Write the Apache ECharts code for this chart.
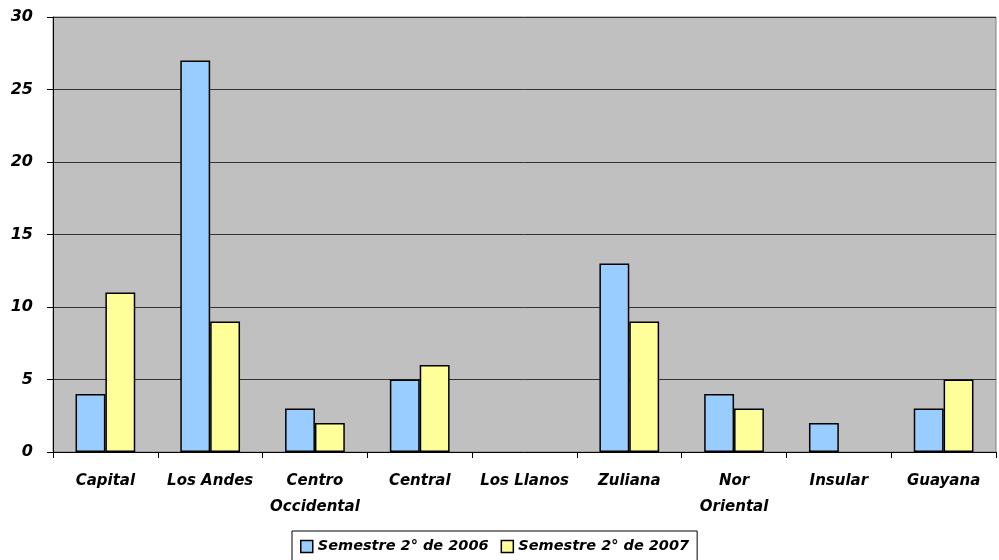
<!DOCTYPE html>
<html>
<head>
<meta charset="utf-8">
<script src="https://cdn.jsdelivr.net/npm/echarts@6/dist/echarts.min.js"></script>
<style>
  html, body { margin: 0; padding: 0; background: #fff; }
  #chart { width: 999px; height: 560px; }
</style>
</head>
<body>
<div id="chart"></div>
<script>
// categorías (regiones)
var categories = ['Capital', 'Los Andes', 'Centro\nOccidental', 'Central', 'Los Llanos',
  'Zuliana', 'Nor\nOriental', 'Insular', 'Guayana'];
var serie2006 = [4, 27, 3, 5, 0, 13, 4, 2, 3];
var serie2007 = [11, 9, 2, 6, 0, 9, 3, 0, 5];
var seriesNames = ['Semestre 2° de 2006', 'Semestre 2° de 2007'];

var fontFam = '"DejaVu Sans", sans-serif';

// los ceros no se dibujan (como en el original)
function sinCeros(arr) {
  return arr.map(function (v) { return v === 0 ? '-' : v; });
}

var myChart = echarts.init(document.getElementById('chart'));

var option = {
  animation: false,
  backgroundColor: '#ffffff',
  grid: {
    left: 53,
    right: 3,
    top: 17,
    bottom: 108,
    show: true,
    backgroundColor: '#C0C0C0',
    borderColor: '#808080',
    borderWidth: 1
  },
  legend: {
    data: seriesNames,
    icon: 'rect',
    left: 292,
    bottom: -2,
    padding: [8, 8, 8, 8],
    itemGap: 12,
    itemWidth: 12,
    itemHeight: 12,
    borderColor: '#000',
    borderWidth: 1,
    backgroundColor: '#fff',
    itemStyle: { borderColor: '#000', borderWidth: 1.5 },
    textStyle: {
      color: '#000',
      fontSize: 14.5,
      fontWeight: 'bold',
      fontStyle: 'italic',
      fontFamily: fontFam
    }
  },
  xAxis: {
    type: 'category',
    data: categories,
    axisLine: { lineStyle: { color: '#000', width: 1 } },
    axisTick: { show: true, length: 6, lineStyle: { color: '#000' } },
    axisLabel: {
      interval: 0,
      margin: 16,
      color: '#000',
      fontSize: 15,
      fontWeight: 'bold',
      fontStyle: 'italic',
      fontFamily: fontFam,
      lineHeight: 26
    }
  },
  yAxis: {
    type: 'value',
    min: 0,
    max: 30,
    interval: 5,
    axisLine: { show: true, lineStyle: { color: '#000' } },
    axisTick: { show: true, length: 6, lineStyle: { color: '#000' } },
    splitLine: { show: true, lineStyle: { color: '#333', width: 1 } },
    axisLabel: {
      margin: 20,
      color: '#000',
      fontSize: 16,
      fontWeight: 'bold',
      fontStyle: 'italic',
      fontFamily: fontFam
    }
  },
  series: [
    {
      name: seriesNames[0],
      type: 'bar',
      data: sinCeros(serie2006),
      barGap: '0%',
      barCategoryGap: '43%',
      itemStyle: { color: '#99CCFF', borderColor: '#000', borderWidth: 1.5 }
    },
    {
      name: seriesNames[1],
      type: 'bar',
      data: sinCeros(serie2007),
      barGap: '0%',
      barCategoryGap: '43%',
      itemStyle: { color: '#FFFF99', borderColor: '#000', borderWidth: 1.5 }
    }
  ]
};

myChart.setOption(option);
</script>
</body>
</html>
